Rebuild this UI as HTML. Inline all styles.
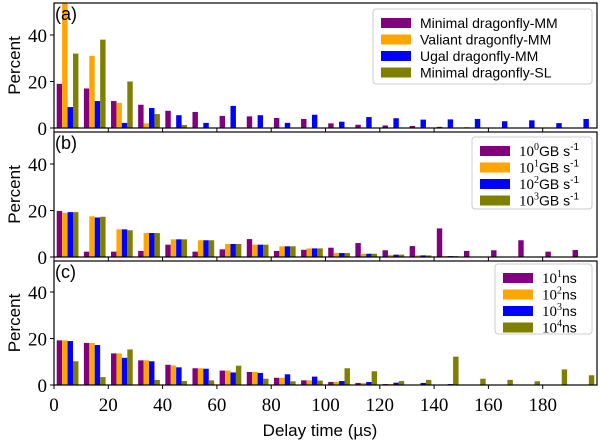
<!DOCTYPE html>
<html><head><meta charset="utf-8"><style>
html,body{margin:0;padding:0;background:#fff;}
svg{display:block;}
</style></head><body>
<svg id="chart" width="600" height="443" xmlns="http://www.w3.org/2000/svg"></svg>
<script>
const binLabels = [0,10,20,30,40,50,60,70,80,90,100,110,120,130,140,150,160,170,180,190];
const xTicks = [0,20,40,60,80,100,120,140,160,180];
const yTicks = [0,20,40];
const colors = ["#800080","#FFA500","#0000FF","#808000"];

const aMinimalMM = [19,17,11.6,10,7.4,6.9,5.2,5,4.3,3.9,2,1.4,1.1,0.9,0.5,0.3,0,0,0,0];
const aValiantMM = [55,31,10.8,2,0.3,0,0,0,0,0,0,0,0,0,0,0,0,0,0,0];
const aUgalMM = [9,11.6,2.2,8.6,5.5,2.2,9.5,5.5,2.2,5.7,2.7,4.7,4.2,3.6,3.7,3.9,2.9,3.3,2.1,3.9];
const aMinimalSL = [32,38,20,6,1.3,0,0,0,0,0,0,0,0,0,0,0,0,0,0,0];

const b1 = [19.8,2.3,2.3,2.6,5.3,2.3,3.3,7.7,2.6,3.1,4,6,2.9,4.7,12.3,2.6,2.9,7.2,2.3,3];
const b2 = [19,17.5,11.9,10.3,7.6,7.2,5.6,5.3,4.6,3.7,1.7,1.4,0.9,0.7,0.4,0.2,0.1,0,0,0];
const b3 = [19.3,17,11.9,10.3,7.6,7.2,5.6,5.3,4.6,3.7,1.7,1.4,1,0.7,0.4,0.2,0.1,0,0,0];
const b4 = [19.3,17.3,11.5,10.3,7.6,7.2,5.6,5.3,4.6,3.7,1.7,1.4,1,0.7,0.4,0.2,0.1,0,0,0];

const c1 = [19.2,18.1,13.6,10.6,8.7,7.2,6.2,5.6,3.1,2,1.3,0.9,0.4,0.2,0,0,0,0,0,0];
const c2 = [19.2,18.1,13.6,10.6,8.4,7.2,6.2,5.6,3.1,2,1.3,0.9,0.4,0.2,0,0,0,0,0,0];
const c3 = [18.9,17.2,11.7,10.2,7.6,7,5.4,5.2,4.6,3.6,1.7,1.3,1,0.9,0.4,0.2,0,0,0,0];
const c4 = [10.2,3.4,15.3,2.2,1.7,2,8.3,2.7,1.6,1.9,7.2,5.9,1.7,2.2,12.2,2.7,2.2,1.6,6.7,4.2];

const legendA = ["Minimal dragonfly-MM","Valiant dragonfly-MM","Ugal dragonfly-MM","Minimal dragonfly-SL"];
const legendBExp = ["0","1","2","3"];
const legendCExp = ["1","2","3","4"];

const NS="http://www.w3.org/2000/svg";
const svg=document.getElementById('chart');
function mk(tag,attrs,parent){const e=document.createElementNS(NS,tag);for(const k in attrs)e.setAttribute(k,attrs[k]);(parent||svg).appendChild(e);return e;}
const X0=54,X1=597,xmin=0,xmax=200;
const xs=v=>X0+(v-xmin)/(xmax-xmin)*(X1-X0);
const panels=[
 {top:3,bottom:128,label:"(a)",series:[aMinimalMM,aValiantMM,aUgalMM,aMinimalSL],name:"panel-a"},
 {top:132,bottom:257,label:"(b)",series:[b1,b2,b3,b4],name:"panel-b"},
 {top:261,bottom:385,label:"(c)",series:[c1,c2,c3,c4],name:"panel-c"}
];
panels.forEach((p,pi)=>{
  const pxPer=2.325;
  const ys=v=>p.bottom-v*pxPer;
  const g=mk('g',{});
  
  
  const clip=mk('clipPath',{id:'clip'+pi},g);
  mk('rect',{x:X0,y:p.top,width:X1-X0,height:p.bottom-p.top},clip);
  const bars=mk('g',{'clip-path':'url(#clip'+pi+')'},g);
  p.series.forEach((s,si)=>{
    s.forEach((v,i)=>{
      if(v<=0)return;
      const x=xs(binLabels[i]+1+2*si);
      const w=xs(2)-xs(0);
      const r=mk('rect',{x:x,y:ys(v),width:w,height:v*pxPer,fill:colors[si]},bars);
      
      
    });
  });
  const fr=mk('rect',{x:X0,y:p.top,width:X1-X0,height:p.bottom-p.top,fill:'none',stroke:'#000','stroke-width':1.2},g);
  
  
  yTicks.forEach(t=>{
    mk('line',{x1:X0-4,x2:X0,y1:ys(t),y2:ys(t),stroke:'#000'},g);
    const tx=mk('text',{x:X0-7,y:ys(t)+7,'text-anchor':'end','font-family':'Liberation Serif, serif','font-size':19,fill:'#000'},g);
    tx.textContent=t;
    
    
  });
  xTicks.forEach(t=>{mk('line',{x1:xs(t),x2:xs(t),y1:p.bottom,y2:p.bottom+4,stroke:'#000'},g);});
  const yl=mk('text',{x:0,y:0,transform:`translate(20,${(p.top+p.bottom)/2}) rotate(-90)`,'text-anchor':'middle','font-family':'Liberation Sans, sans-serif','font-size':17,fill:'#000'},g);
  yl.textContent='Percent';
  
  
  const pl=mk('text',{x:X0+1,y:p.top+17,'font-family':'Liberation Sans, sans-serif','font-size':18,fill:'#000'},g);
  pl.textContent=p.label;
  
  
});
function legend(x,y,w,h,entries,name){
  const g=mk('g',{});
  
  
  mk('rect',{x:x,y:y,width:w,height:h,rx:3,fill:'#fff',stroke:'#ccc'},g);
  entries.forEach((e,i)=>{
    const ey=y+9+i*16.5;
    mk('rect',{x:x+8,y:ey,width:30,height:10,fill:colors[i]},g);
    const t=mk('g',{},g);
    
    
    e(t,x+47,ey+10);
  });
}
legend(373,9,219,75,legendA.map(s=>(g,x,y)=>{const t=mk('text',{x:x,y:y,'font-family':'Liberation Sans, sans-serif','font-size':14},g);t.textContent=s;}),'legend-a');
legend(472,137,120,72,legendBExp.map(s=>(g,x,y)=>{const t=mk('text',{x:x,y:y,'font-family':'Liberation Serif, serif','font-size':15},g);t.innerHTML='10<tspan dy="-6" font-size="10">'+s+'</tspan><tspan dy="6" font-family="Liberation Sans, sans-serif" font-size="14">GB s</tspan><tspan dy="-6" font-size="10" font-family="Liberation Sans, sans-serif">-1</tspan>';}),'legend-b');
legend(495,264,97,70,legendCExp.map(s=>(g,x,y)=>{const t=mk('text',{x:x,y:y,'font-family':'Liberation Serif, serif','font-size':15},g);t.innerHTML='10<tspan dy="-6" font-size="10">'+s+'</tspan><tspan dy="6" font-family="Liberation Sans, sans-serif" font-size="14">ns</tspan>';}),'legend-c');
xTicks.forEach(t=>{
  const tx=mk('text',{x:xs(t),y:411,'text-anchor':'middle','font-family':'Liberation Serif, serif','font-size':19,fill:'#000'});
  tx.textContent=t;
  
  
});
const xt=mk('text',{x:320,y:436,'text-anchor':'middle','font-family':'Liberation Sans, sans-serif','font-size':17,fill:'#000'});
xt.textContent='Delay time (µs)';


</script>
</body></html>
